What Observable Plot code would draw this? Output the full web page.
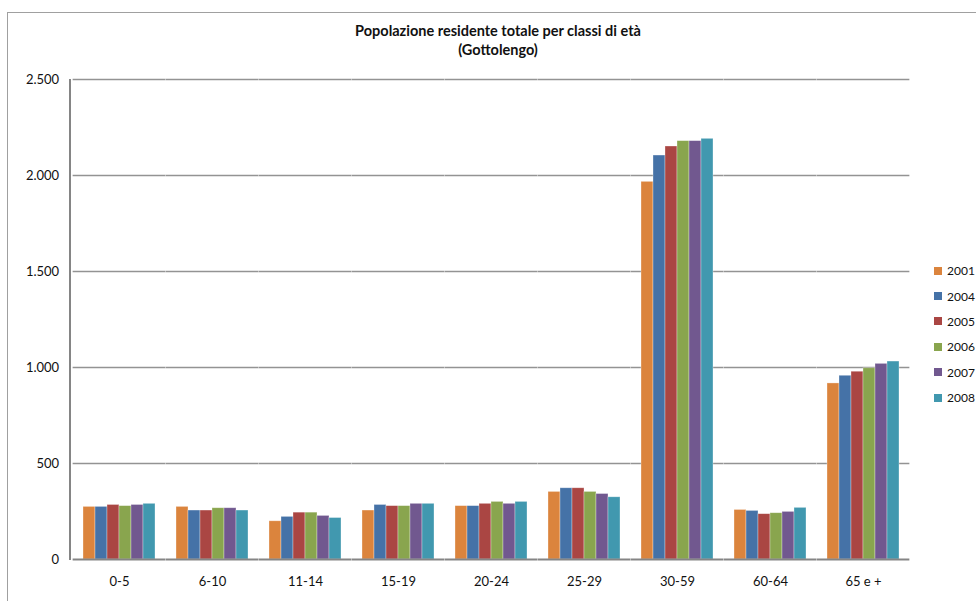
<!DOCTYPE html>
<html lang="it">
<head>
<meta charset="utf-8">
<script src="https://cdn.jsdelivr.net/npm/d3@7"></script>
<script src="https://cdn.jsdelivr.net/npm/@observablehq/plot@0.6"></script>
<style>
  html, body { margin: 0; padding: 0; background: #fff; overflow: hidden; }
  #wrap { position: relative; width: 976px; height: 601px; font-family: Lato, "Open Sans", sans-serif; color: #111; }
  #border { position: absolute; left: 7px; top: 12px; width: 1000px; height: 620px; border: 1px solid #a0a0a0; box-sizing: border-box; }
  #title { position: absolute; left: 0; width: 996px; top: 21px; text-align: center; font-weight: bold; font-size: 14.5px; line-height: 19px; }
  #legend { position: absolute; left: 934px; top: 258px; font-size: 12px; }
  #legend .item { display: flex; align-items: center; height: 25.4px; }
  #legend .sw { width: 8px; height: 8px; margin-right: 5px; }
  #chart { position: absolute; left: 0; top: 0; }
</style>
</head>
<body>
<div id="wrap">
  <div id="border"></div>
  <div id="chart"></div>
  <div id="title">Popolazione residente totale per classi di età<br>(Gottolengo)</div>
  <div id="legend"></div>
</div>
<script>
// Age classes and survey years
const categories = ["0-5", "6-10", "11-14", "15-19", "20-24", "25-29", "30-59", "60-64", "65 e +"];
const years = ["2001", "2004", "2005", "2006", "2007", "2008"];

// Resident population per age class, one array per year
const v2001 = [274, 274, 199, 255, 278, 352, 1967, 258, 917];
const v2004 = [274, 255, 222, 284, 278, 371, 2104, 253, 957];
const v2005 = [284, 255, 244, 278, 290, 371, 2151, 236, 978];
const v2006 = [278, 267, 244, 278, 300, 352, 2179, 241, 996];
const v2007 = [284, 267, 227, 290, 290, 341, 2179, 248, 1019];
const v2008 = [290, 255, 216, 290, 300, 324, 2191, 269, 1031];

const yTicks = [0, 500, 1000, 1500, 2000, 2500];
const colors = ["#DB843D", "#4572A7", "#AA4643", "#89A54E", "#71588F", "#4198AF"];

const series = [v2001, v2004, v2005, v2006, v2007, v2008];
const rows = [];
categories.forEach((cat, i) => {
  years.forEach((year, j) => rows.push({cat, year, value: series[j][i]}));
});

// Italian number format: dot as thousands separator
const it = d3.formatLocale({decimal: ",", thousands: ".", grouping: [3], currency: ["€", ""]});
const fmt = it.format(",d");

// Layout
const W = 976, H = 601, mL = 70, mR = 64, mT = 79, mB = 42;
const padInner = 0.2;
// with outer padding = half the inner padding, each facet plus half a gap on
// either side tiles the whole frame, so per-facet rules join seamlessly
const step = (W - mL - mR) / categories.length;
const halfGap = step * padInner / 2;

const chart = Plot.plot({
  width: W,
  height: H,
  marginLeft: mL,
  marginRight: mR,
  marginTop: mT,
  marginBottom: mB,
  style: {fontFamily: "Lato, 'Open Sans', sans-serif", fontSize: "13px", color: "#111", background: "transparent", overflow: "visible"},
  fx: {domain: categories, paddingInner: padInner, paddingOuter: padInner / 2, label: null, axis: "bottom", tickSize: 0, tickPadding: 17},
  x: {domain: years, padding: 0, axis: null},
  // the y axis sits on the first facet's edge, so pull the labels back by half a gap
  y: {domain: [0, 2500], ticks: yTicks, tickFormat: fmt, label: null, tickSize: 0, tickPadding: 14 + halfGap},
  color: {domain: years, range: colors},
  marks: [
    Plot.ruleY(yTicks.slice(1), {stroke: "#939393", strokeWidth: 1.3, insetLeft: -halfGap, insetRight: -halfGap}),
    Plot.barY(rows, {fx: "cat", x: "year", y: "value", fill: "year", stroke: "#fff", strokeOpacity: 0.45, strokeWidth: 0.7}),
    Plot.ruleY([0], {stroke: "#858585", strokeWidth: 2, insetLeft: -halfGap, insetRight: -halfGap})
  ]
});
document.getElementById("chart").appendChild(chart);

// Left axis line along the frame edge, placed with the chart's own y scale
const ys = chart.scale("y");
d3.select(chart).append("line")
  .attr("x1", mL).attr("x2", mL)
  .attr("y1", ys.apply(0) + 1).attr("y2", ys.apply(2500))
  .attr("stroke", "#858585").attr("stroke-width", 2);

// Legend
const legend = document.getElementById("legend");
years.forEach((y, i) => {
  const item = document.createElement("div");
  item.className = "item";
  const sw = document.createElement("span");
  sw.className = "sw";
  sw.style.background = colors[i];
  const t = document.createElement("span");
  t.textContent = y;
  item.appendChild(sw);
  item.appendChild(t);
  legend.appendChild(item);
});
</script>
</body>
</html>
